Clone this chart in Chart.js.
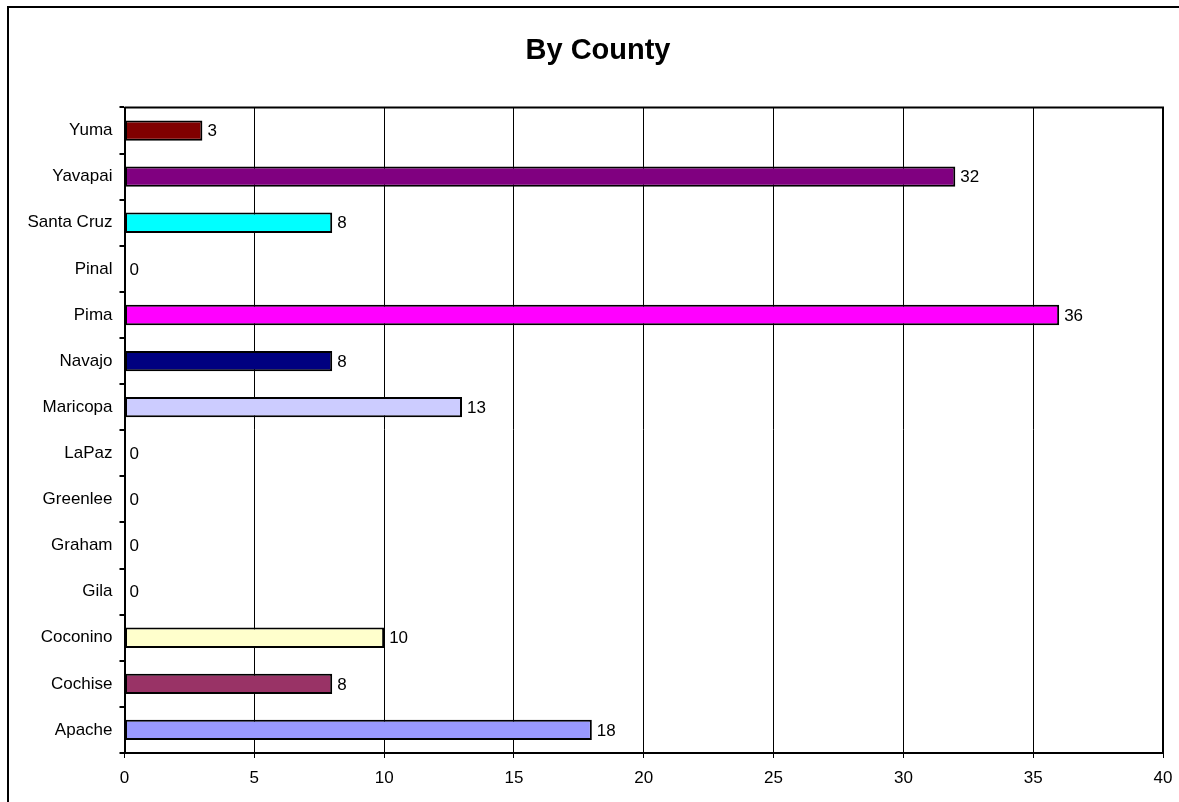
<!DOCTYPE html>
<html>
<head>
<meta charset="utf-8">
<script src="https://cdn.jsdelivr.net/npm/chart.js@4.4.1/dist/chart.umd.min.js"></script>
<style>
  html, body { margin: 0; padding: 0; background: #fff; }
  canvas { display: block; }
</style>
</head>
<body>
<canvas id="myChart" width="1179" height="802"></canvas>
<script>
// counties, top to bottom as shown
const counties = ["Yuma", "Yavapai", "Santa Cruz", "Pinal", "Pima", "Navajo", "Maricopa",
  "LaPaz", "Greenlee", "Graham", "Gila", "Coconino", "Cochise", "Apache"];
const counts = [3, 32, 8, 0, 36, 8, 13, 0, 0, 0, 0, 10, 8, 18];
const barColors = ["#800000", "#800080", "#00FFFF", "#FFFFFF", "#FF00FF", "#000080", "#CCCCFF",
  "#FFFFFF", "#FFFFFF", "#FFFFFF", "#FFFFFF", "#FFFFCC", "#993366", "#9999FF"];
const xMin = 0, xMax = 40, xStep = 5;
const chartTitle = "By County";

const FONT = "'Liberation Sans', Arial, sans-serif";

// outer frame (left + top only), title, and the plot box top/right edges
const framePlugin = {
  id: "frame",
  beforeDraw(chart) {
    const ctx = chart.ctx;
    ctx.save();
    ctx.fillStyle = "#fff";
    ctx.fillRect(0, 0, chart.width, chart.height);
    ctx.strokeStyle = "#000";
    ctx.lineWidth = 2;
    ctx.beginPath();
    ctx.moveTo(8, chart.height);
    ctx.lineTo(8, 7);
    ctx.lineTo(chart.width, 7);
    ctx.stroke();
    // title
    ctx.fillStyle = "#000";
    ctx.font = "bold 29px " + FONT;
    ctx.textAlign = "center";
    ctx.textBaseline = "middle";
    ctx.fillText(chartTitle, 598, 51);
    ctx.restore();
  },
  afterDatasetsDraw(chart) {
    const a = chart.chartArea;
    const ctx = chart.ctx;
    ctx.save();
    ctx.strokeStyle = "#000";
    ctx.lineWidth = 2;
    ctx.beginPath();
    ctx.moveTo(a.left, a.top);
    ctx.lineTo(a.right, a.top);
    ctx.lineTo(a.right, a.bottom);
    ctx.stroke();
    ctx.restore();
  }
};

// value labels at the end of each bar
const valueLabels = {
  id: "valueLabels",
  afterDatasetsDraw(chart) {
    const ctx = chart.ctx;
    const meta = chart.getDatasetMeta(0);
    ctx.save();
    ctx.fillStyle = "#000";
    ctx.font = "17px " + FONT;
    ctx.textAlign = "left";
    ctx.textBaseline = "middle";
    meta.data.forEach((bar, i) => {
      ctx.fillText(String(counts[i]), bar.x + 5, bar.y + 1);
    });
    ctx.restore();
  }
};

const ctx = document.getElementById("myChart");
new Chart(ctx, {
  type: "bar",
  data: {
    labels: counties,
    datasets: [{
      data: counts,
      backgroundColor: barColors,
      borderColor: "#000",
      borderWidth: 2,
      borderSkipped: false,
      barPercentage: 0.44,
      categoryPercentage: 1
    }]
  },
  options: {
    indexAxis: "y",
    responsive: false,
    animation: false,
    layout: { padding: { left: 10, right: 16, top: 107.5, bottom: 0 } },
    plugins: {
      legend: { display: false },
      tooltip: { enabled: false },
      title: { display: false }
    },
    scales: {
      x: {
        min: xMin,
        max: xMax,
        afterFit(scale) {
          scale.height = 49;
          scale.paddingLeft = 0;
          scale.paddingRight = 0;
        },
        ticks: {
          stepSize: xStep,
          color: "#000",
          padding: 10,
          maxRotation: 0,
          font: { family: FONT, size: 17 }
        },
        grid: { color: "#000", lineWidth: 1, tickLength: 5, drawOnChartArea: true },
        border: { color: "#000", width: 2 }
      },
      y: {
        afterFit(scale) { scale.width = 114.5; },
        ticks: {
          color: "#000",
          padding: 7,
          font: { family: FONT, size: 17 }
        },
        grid: { color: "#000", lineWidth: 2, tickLength: 5, drawOnChartArea: false, offset: true },
        border: { color: "#000", width: 2 }
      }
    }
  },
  plugins: [framePlugin, valueLabels]
});
</script>
</body>
</html>
